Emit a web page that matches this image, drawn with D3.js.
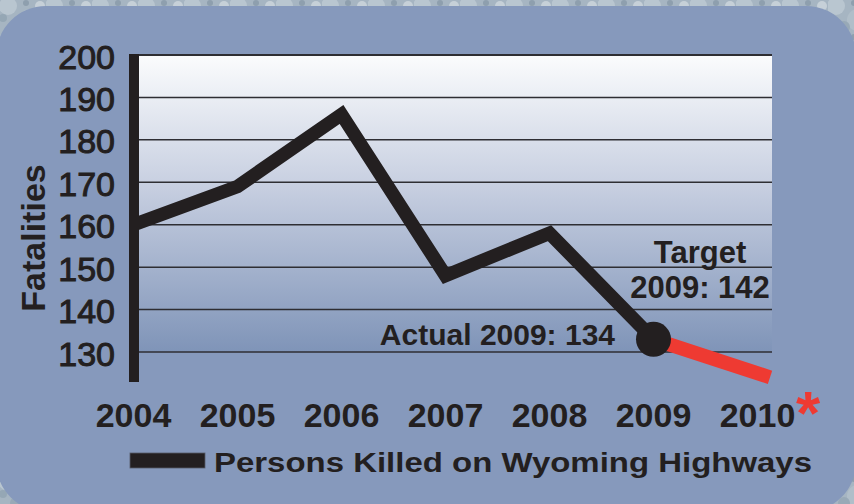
<!DOCTYPE html>
<html>
<head>
<meta charset="utf-8">
<script src="https://cdn.jsdelivr.net/npm/d3@7"></script>
<style>
	html, body { margin: 0; padding: 0; background: #a9b8c4; }
	svg { display: block; font-family: "Liberation Sans", Arial, sans-serif; }
</style>
</head>
<body>
<svg id="chart" width="854" height="504"></svg>
<script>
// chart data
var years = [2004, 2005, 2006, 2007, 2008, 2009];
var fatalities = [160, 169, 186, 148, 158, 133];
var targetYears = [2009, 2010];
var targetValues = [133, 125];
var xTickLabels = ['2004', '2005', '2006', '2007', '2008', '2009', '2010'];
var yTickValues = [130, 140, 150, 160, 170, 180, 190, 200];
var seriesName = 'Persons Killed on Wyoming Highways';
var actualNote = 'Actual 2009: 134';
var targetNote = ['Target', '2009: 142'];

initchart();

function initchart() {
	var svg = d3.select('#chart');
	svg.selectAll('*').remove();
	var width = +svg.attr('width');
	var height = +svg.attr('height');
	var ink = '#231f20';
	var red = '#ee3a32';

	var plotLeft = 139, plotRight = 772;

	var x = d3.scaleLinear().domain([2004, 2010]).range([133.5, 757.5]);
	var y = d3.scaleLinear().domain([130, 200]).range([352, 55]);

	var defs = svg.append('defs');

	// rough stone texture behind the panel (kept soft)
	var pat = defs.append('pattern')
		.attr('id', 'stone')
		.attr('patternUnits', 'userSpaceOnUse')
		.attr('width', 46).attr('height', 34);
	pat.append('rect').attr('width', 46).attr('height', 34).attr('fill', '#a6b5c2');
	[[8, 6, 9, '#b9c6d0'], [30, 20, 11, '#b0bec9'], [40, 6, 5, '#c6d0d8'], [16, 27, 6, '#98a9b7'],
	 [3, 18, 4, '#95a7b5'], [26, 3, 3, '#8e9fae']].forEach(function(c) {
		pat.append('circle').attr('cx', c[0]).attr('cy', c[1]).attr('r', c[2]).attr('fill', c[3]);
	});
	svg.append('rect').attr('width', width).attr('height', height).attr('fill', 'url(#stone)');

	// blue panel
	svg.append('rect')
		.attr('x', -4).attr('y', 6)
		.attr('width', 860).attr('height', 506)
		.attr('rx', 50).attr('ry', 50)
		.attr('fill', '#8699bc');

	// plot background gradient
	var grad = defs.append('linearGradient')
		.attr('id', 'plotbg')
		.attr('x1', 0).attr('y1', 0).attr('x2', 0).attr('y2', 1);
	grad.append('stop').attr('offset', '0%').attr('stop-color', '#fbfcfd');
	grad.append('stop').attr('offset', '45%').attr('stop-color', '#c6cee0');
	grad.append('stop').attr('offset', '100%').attr('stop-color', '#7f94b8');

	svg.append('rect')
		.attr('x', plotLeft).attr('y', y(200))
		.attr('width', plotRight - plotLeft).attr('height', y(130) - y(200))
		.attr('fill', 'url(#plotbg)');

	// gridlines
	svg.append('g').selectAll('line')
		.data(yTickValues)
		.join('line')
			.attr('x1', plotLeft).attr('x2', plotRight)
			.attr('y1', d => y(d)).attr('y2', d => y(d))
			.attr('stroke', '#2e2e33')
			.attr('stroke-width', d => d == 200 ? 2 : 1.5);

	// y tick labels
	svg.append('g').selectAll('text')
		.data(yTickValues)
		.join('text')
			.attr('x', 115)
			.attr('y', d => y(d) + 13.5)
			.attr('text-anchor', 'end')
			.attr('font-size', 34)
			.attr('fill', ink)
			.attr('stroke', ink)
			.attr('stroke-width', 1)
			.text(d => d);

	// axis title
	svg.append('text')
		.attr('transform', 'translate(45, 238) rotate(-90)')
		.attr('text-anchor', 'middle')
		.attr('font-size', 34)
		.attr('font-weight', 'bold')
		.attr('fill', ink)
		.text('Fatalities');

	// x tick labels
	svg.append('g').selectAll('text')
		.data(xTickLabels)
		.join('text')
			.attr('x', d => x(+d))
			.attr('y', 427)
			.attr('text-anchor', 'middle')
			.attr('font-size', 34)
			.attr('font-weight', 'bold')
			.attr('fill', ink)
			.text(d => d);

	// red asterisk beside 2010
	svg.append('text')
		.attr('x', 796).attr('y', 434)
		.attr('font-size', 62)
		.attr('font-weight', 'bold')
		.attr('fill', red)
		.text('*');

	// target projection, extended to the plot edge
	var p0 = [x(targetYears[0]), y(targetValues[0])];
	var p1 = [x(targetYears[1]), y(targetValues[1])];
	var endX = plotRight - 2;
	var endY = p0[1] + (p1[1] - p0[1]) * (endX - p0[0]) / (p1[0] - p0[0]);
	svg.append('path')
		.attr('d', d3.line()([p0, [endX, endY]]))
		.attr('fill', 'none')
		.attr('stroke', red)
		.attr('stroke-width', 14);

	// actual fatalities line
	var line = d3.line()
		.x((d, i) => x(years[i]))
		.y(d => y(d));
	svg.append('path')
		.datum(fatalities)
		.attr('d', line)
		.attr('fill', 'none')
		.attr('stroke', ink)
		.attr('stroke-width', 13.5)
		.attr('stroke-linejoin', 'miter')
		.attr('stroke-miterlimit', 10);

	svg.append('circle')
		.attr('cx', x(years[years.length - 1]))
		.attr('cy', y(fatalities[fatalities.length - 1]))
		.attr('r', 17.5)
		.attr('fill', ink);

	// vertical axis bar
	svg.append('rect')
		.attr('x', 129).attr('y', y(200) - 1)
		.attr('width', 10).attr('height', 382 - y(200) + 1)
		.attr('fill', ink);

	// annotations
	svg.append('text')
		.attr('x', 615).attr('y', 345)
		.attr('text-anchor', 'end')
		.attr('font-size', 30)
		.attr('font-weight', 'bold')
		.attr('fill', ink)
		.text(actualNote);

	svg.append('g').selectAll('text')
		.data(targetNote)
		.join('text')
			.attr('x', 700)
			.attr('y', (d, i) => 263 + i * 35)
			.attr('text-anchor', 'middle')
			.attr('font-size', 31)
			.attr('font-weight', 'bold')
			.attr('fill', ink)
			.text(d => d);

	// legend
	svg.append('rect')
		.attr('x', 130).attr('y', 453)
		.attr('width', 75).attr('height', 15)
		.attr('fill', ink)
		.attr('stroke', '#555a66')
		.attr('stroke-width', 0.8);

	svg.append('text')
		.attr('x', 214).attr('y', 472)
		.attr('font-size', 27)
		.attr('font-weight', 'bold')
		.attr('fill', ink)
		.attr('textLength', 598)
		.attr('lengthAdjust', 'spacingAndGlyphs')
		.text(seriesName);
}
</script>
</body>
</html>
